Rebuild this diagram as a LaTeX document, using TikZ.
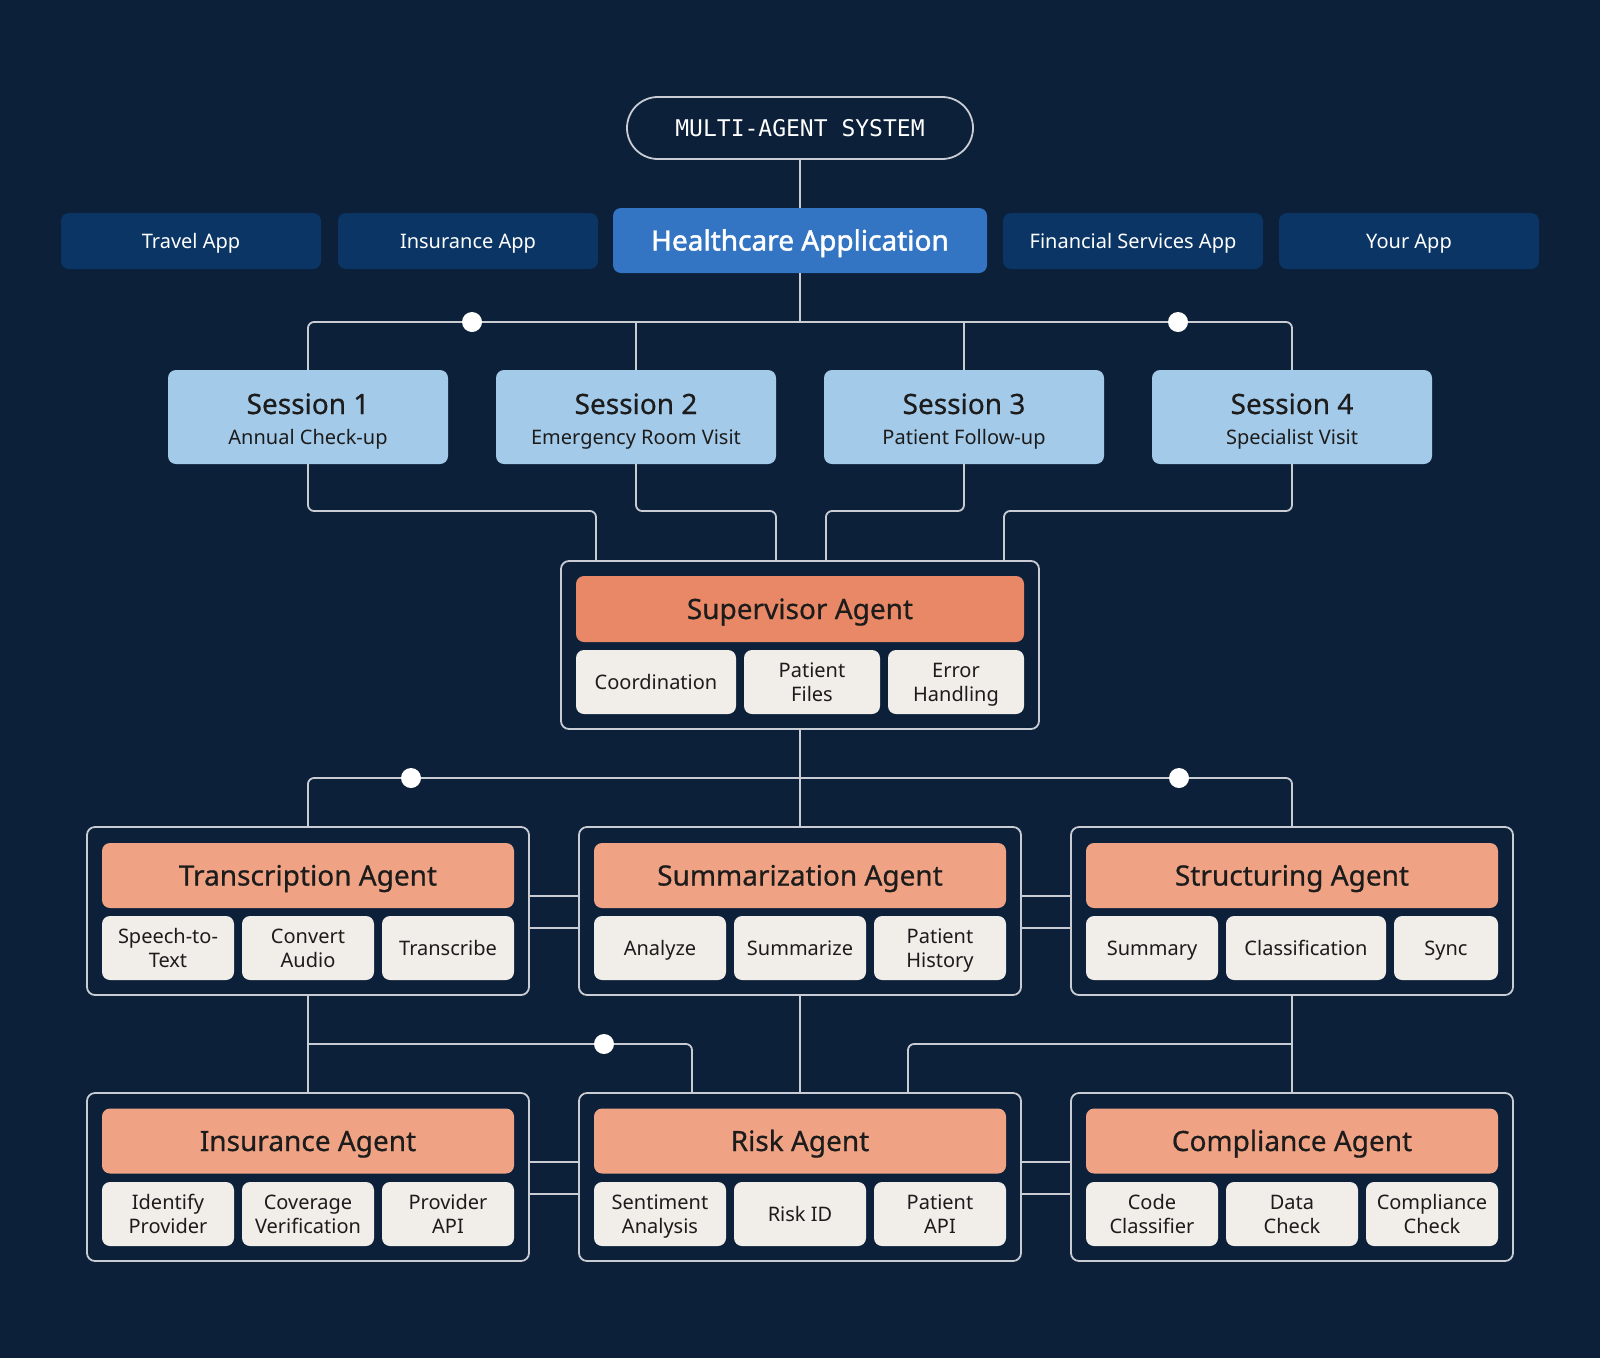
\documentclass[tikz,border=0pt]{standalone}
\usepackage{fontspec}
\setmainfont{Noto Sans}
\setmonofont{DejaVu Sans Mono}
\newfontfamily\medfont{Noto Sans}[FakeBold=0.6]
\newfontfamily\semifont{Noto Sans}[FakeBold=1.6]
\usetikzlibrary{calc}
\definecolor{bgc}{HTML}{0C2039}
\definecolor{appc}{HTML}{0A3564}
\definecolor{hcc}{HTML}{3375C3}
\definecolor{sesc}{HTML}{A4CAE9}
\definecolor{supc}{HTML}{E98866}
\definecolor{agc}{HTML}{F0A384}
\definecolor{subc}{HTML}{F1EDE8}
\definecolor{linec}{HTML}{C9CDD3}
\definecolor{txtc}{HTML}{1C1C1C}
\newcommand{\subbox}[6][]{\node[subb, #1, minimum width=#5pt] (#2) at (#3,#4) {#6};}
\begin{document}
\begin{tikzpicture}[x=1pt,y=-1pt,
  boxb/.style={rectangle, rounded corners=8pt, inner sep=0pt, align=center, text=txtc},
  app/.style={boxb, fill=appc, text=white, minimum width=260pt, minimum height=56pt,
    font=\fontsize{20}{24}\selectfont, text height=14.3pt, text depth=0pt},
  hc/.style={boxb, fill=hcc, text=white, minimum width=374pt, minimum height=65pt,
    font=\semifont\fontsize{28}{32}\selectfont, text height=20pt, text depth=0pt},
  pill/.style={rectangle, rounded corners=31pt, draw=linec, line width=1.8pt, inner sep=0pt,
    minimum width=346pt, minimum height=62pt, text=white,
    font=\ttfamily\fontsize{23}{26}\selectfont, text height=16.8pt, text depth=0pt},
  sess/.style={boxb, fill=sesc, minimum width=280pt, minimum height=94pt},
  stitle/.style={anchor=base, text=txtc, inner sep=0pt, font=\medfont\fontsize{28}{32}\selectfont},
  ssub/.style={anchor=base, text=txtc, inner sep=0pt, font=\fontsize{20}{24}\selectfont},
  outerb/.style={rectangle, rounded corners=8pt, draw=linec, line width=1.8pt, fill=bgc,
    minimum width=442pt, minimum height=168pt, inner sep=0pt},
  hdr/.style={boxb, fill=agc, minimum width=412pt, minimum height=65pt,
    font=\medfont\fontsize{28}{32}\selectfont, text height=20pt, text depth=0pt},
  subb/.style={boxb, fill=subc, minimum height=64pt,
    font=\fontsize{20}{24}\selectfont, text height=14.3pt, text depth=0pt},
  two/.style={text height=38.3pt, text depth=0pt},
  conn/.style={draw=linec, line width=1.8pt, rounded corners=6pt},
  dotn/.style={circle, fill=white, minimum size=20pt, inner sep=0pt}
]
\useasboundingbox (0,0) rectangle (1600,1358);
\fill[bgc] (0,0) rectangle (1600,1358);

% top
\node[pill] (mas) at (800,128) {MULTI-AGENT SYSTEM};
\node[app] (travel) at (191,241) {Travel App};
\node[app] (insapp) at (468,241) {Insurance App};
\node[hc] (hc) at (800,240.5) {Healthcare Application};
\node[app] (fin) at (1133,241) {Financial Services App};
\node[app] (your) at (1409,241) {Your App};
\draw[conn] (mas.south) -- (hc.north);

% sessions
\node[sess] (s1) at (308,417) {};
\node[sess] (s2) at (636,417) {};
\node[sess] (s3) at (964,417) {};
\node[sess] (s4) at (1292,417) {};
\node[stitle] (s1t) at (308,414) {Session 1};
\node[ssub] (s1s) at (308,444) {Annual Check-up};
\node[stitle] (s2t) at (636,414) {Session 2};
\node[ssub] (s2s) at (636,444) {Emergency Room Visit};
\node[stitle] (s3t) at (964,414) {Session 3};
\node[ssub] (s3s) at (964,444) {Patient Follow-up};
\node[stitle] (s4t) at (1292,414) {Session 4};
\node[ssub] (s4s) at (1292,444) {Specialist Visit};

\coordinate (bus1) at (800,322);
\draw[conn] (hc.south) -- (bus1);
\draw[conn] (s1.north) |- (bus1) -| (s4.north);
\draw[conn] (s2.north) -- (s2.north |- bus1);
\draw[conn] (s3.north) -- (s3.north |- bus1);
\node[dotn] (d1) at (472,322) {};
\node[dotn] (d2) at (1178,322) {};

% supervisor
\node[outerb, minimum width=478pt] (sup) at (800,645) {};
\node[hdr, fill=supc, minimum width=448pt, minimum height=66pt] (suph) at (800,609) {Supervisor Agent};
\subbox{coord}{656}{682}{160}{Coordination}
\subbox[two]{pfiles}{812}{682}{136}{Patient\\Files}
\subbox[two]{errh}{956}{682}{136}{Error\\Handling}

\coordinate (in1) at (596,561);
\coordinate (in2) at (776,561);
\coordinate (in3) at (826,561);
\coordinate (in4) at (1004,561);
\draw[conn] (s1.south) |- ($(in1)+(0,-50)$) -- (in1);
\draw[conn] (s2.south) |- ($(in2)+(0,-50)$) -- (in2);
\draw[conn] (s3.south) |- ($(in3)+(0,-50)$) -- (in3);
\draw[conn] (s4.south) |- ($(in4)+(0,-50)$) -- (in4);

% middle row
\node[outerb] (tr) at (308,911) {};
\node[outerb] (sm) at (800,911) {};
\node[outerb] (st) at (1292,911) {};
\node[hdr] (trh) at (308,875.5) {Transcription Agent};
\node[hdr] (smh) at (800,875.5) {Summarization Agent};
\node[hdr] (sth) at (1292,875.5) {Structuring Agent};
\subbox[two]{tr1}{168}{948}{132}{Speech-to-\\Text}
\subbox[two]{tr2}{308}{948}{132}{Convert\\Audio}
\subbox{tr3}{448}{948}{132}{Transcribe}
\subbox{sm1}{660}{948}{132}{Analyze}
\subbox{sm2}{800}{948}{132}{Summarize}
\subbox[two]{sm3}{940}{948}{132}{Patient\\History}
\subbox{st1}{1152}{948}{132}{Summary}
\subbox{st2}{1306}{948}{160}{Classification}
\subbox{st3}{1446}{948}{104}{Sync}

\coordinate (bus2) at (800,778);
\draw[conn] (sup.south) -- (bus2);
\draw[conn] (tr.north) |- (bus2) -| (st.north);
\draw[conn] (bus2) -- (sm.north);
\node[dotn] (d3) at (411,778) {};
\node[dotn] (d4) at (1179,778) {};

\draw[conn] ($(tr.east)+(0,-15)$) -- ($(sm.west)+(0,-15)$);
\draw[conn] ($(tr.east)+(0,17)$) -- ($(sm.west)+(0,17)$);
\draw[conn] ($(sm.east)+(0,-15)$) -- ($(st.west)+(0,-15)$);
\draw[conn] ($(sm.east)+(0,17)$) -- ($(st.west)+(0,17)$);

% bottom row
\node[outerb] (ins) at (308,1177) {};
\node[outerb] (rk) at (800,1177) {};
\node[outerb] (cp) at (1292,1177) {};
\node[hdr] (insh) at (308,1141) {Insurance Agent};
\node[hdr] (rkh) at (800,1141) {Risk Agent};
\node[hdr] (cph) at (1292,1141) {Compliance Agent};
\subbox[two]{in1b}{168}{1214}{132}{Identify\\Provider}
\subbox[two]{in2b}{308}{1214}{132}{Coverage\\Verification}
\subbox[two]{in3b}{448}{1214}{132}{Provider\\API}
\subbox[two]{rk1}{660}{1214}{132}{Sentiment\\Analysis}
\subbox{rk2}{800}{1214}{132}{Risk ID}
\subbox[two]{rk3}{940}{1214}{132}{Patient\\API}
\subbox[two]{cp1}{1152}{1214}{132}{Code\\Classifier}
\subbox[two]{cp2}{1292}{1214}{132}{Data\\Check}
\subbox[two]{cp3}{1432}{1214}{132}{Compliance\\Check}

\draw[conn] ($(ins.east)+(0,-15)$) -- ($(rk.west)+(0,-15)$);
\draw[conn] ($(ins.east)+(0,17)$) -- ($(rk.west)+(0,17)$);
\draw[conn] ($(rk.east)+(0,-15)$) -- ($(cp.west)+(0,-15)$);
\draw[conn] ($(rk.east)+(0,17)$) -- ($(cp.west)+(0,17)$);

\coordinate (bus3) at (308,1044);
\coordinate (bus4) at (1292,1044);
\coordinate (rkin1) at (692,1093);
\coordinate (rkin2) at (908,1093);
\draw[conn] (tr.south) -- (ins.north);
\draw[conn] (bus3) -| (rkin1);
\draw[conn] (sm.south) -- (rk.north);
\draw[conn] (st.south) -- (cp.north);
\draw[conn] (bus4) -| (rkin2);
\node[dotn] (d5) at (604,1044) {};
\end{tikzpicture}
\end{document}
